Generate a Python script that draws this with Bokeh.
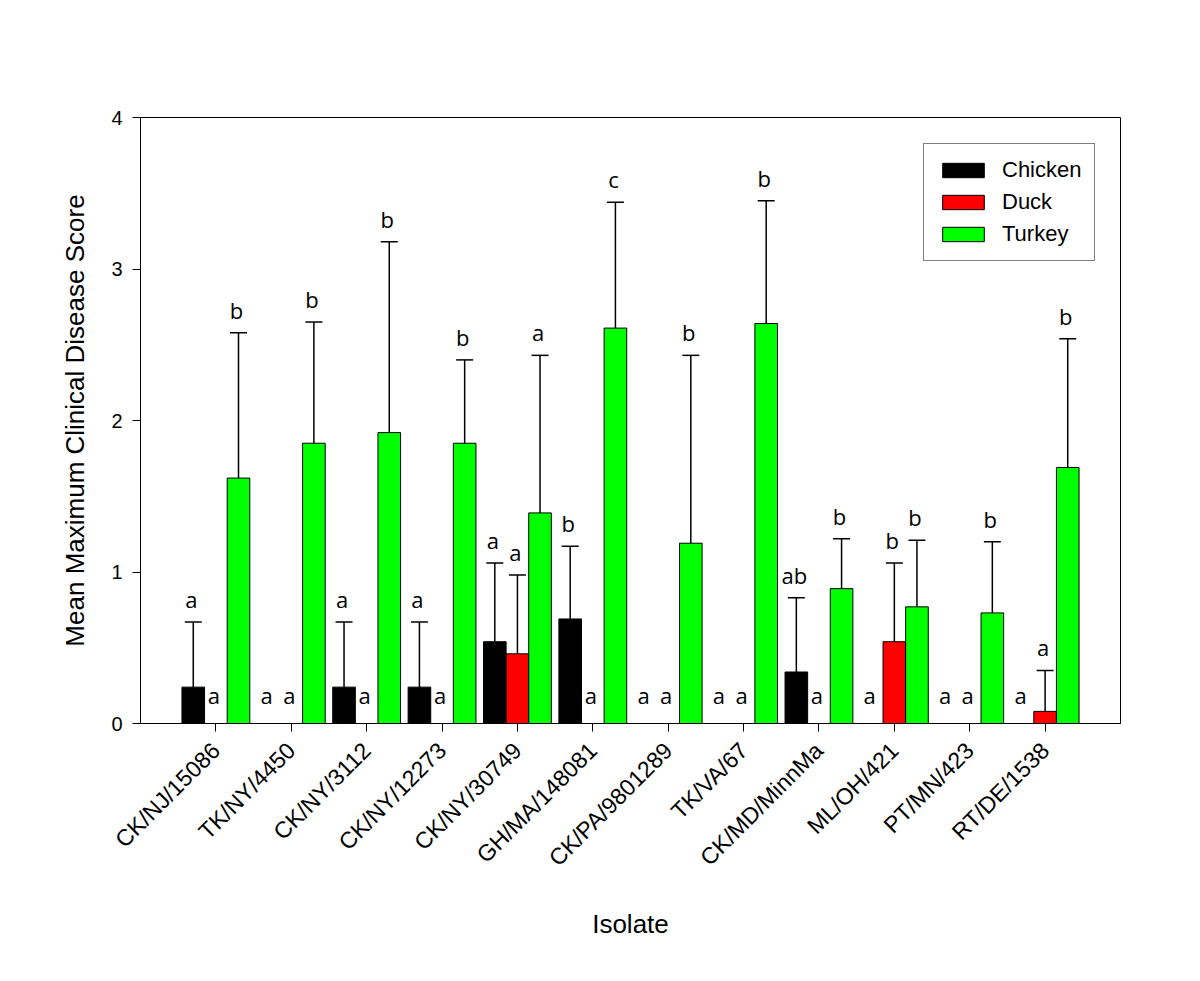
import math
from bokeh.plotting import figure
from bokeh.models import (ColumnDataSource, FactorRange, Range1d, Whisker, TeeHead,
                          LabelSet, FixedTicker)
from bokeh.transform import dodge
from bokeh.core.properties import value
from bokeh.embed import file_html
from bokeh.resources import INLINE

isolates = ["CK/NJ/15086", "TK/NY/4450", "CK/NY/3112", "CK/NY/12273", "CK/NY/30749",
            "GH/MA/148081", "CK/PA/9801289", "TK/VA/67", "CK/MD/MinnMa", "ML/OH/421",
            "PT/MN/423", "RT/DE/1538"]

chicken_mean = [0.24, 0.0, 0.24, 0.24, 0.54, 0.69, 0.0, 0.0, 0.34, 0.0, 0.0, 0.0]
chicken_sd = [0.43, 0.0, 0.43, 0.43, 0.52, 0.48, 0.0, 0.0, 0.49, 0.0, 0.0, 0.0]
chicken_letters = ["a", "a", "a", "a", "a", "b", "a", "a", "ab", "a", "a", "a"]

duck_mean = [0.0, 0.0, 0.0, 0.0, 0.46, 0.0, 0.0, 0.0, 0.0, 0.54, 0.0, 0.08]
duck_sd = [0.0, 0.0, 0.0, 0.0, 0.52, 0.0, 0.0, 0.0, 0.0, 0.52, 0.0, 0.27]
duck_letters = ["a", "a", "a", "a", "a", "a", "a", "a", "a", "b", "a", "a"]

turkey_mean = [1.62, 1.85, 1.92, 1.85, 1.39, 2.61, 1.19, 2.64, 0.89, 0.77, 0.73, 1.69]
turkey_sd = [0.96, 0.80, 1.26, 0.55, 1.04, 0.83, 1.24, 0.81, 0.33, 0.44, 0.47, 0.85]
turkey_letters = ["b", "b", "b", "b", "a", "c", "b", "b", "b", "b", "b", "b"]

series = [
    ("Chicken", "#000000", -0.3, chicken_mean, chicken_sd, chicken_letters),
    ("Duck", "#ff0000", 0.0, duck_mean, duck_sd, duck_letters),
    ("Turkey", "#00ff00", 0.3, turkey_mean, turkey_sd, turkey_letters),
]

p = figure(
    x_range=FactorRange(factors=isolates, range_padding=0.5, range_padding_units="absolute"),
    y_range=Range1d(0, 4),
    width=1184, height=965,
    min_border_left=140, min_border_right=64, min_border_top=117, min_border_bottom=242,
    output_backend="svg", toolbar_location=None,
)

for name, color, off, mean, sd, letters in series:
    src = ColumnDataSource(dict(isolate=isolates, mean=mean))
    p.vbar(x=dodge("isolate", off, range=p.x_range), top="mean", width=0.3, bottom=0,
           fill_color=color, line_color="black", line_width=1, legend_label=name, source=src)

    wi = [i for i in range(len(isolates)) if mean[i] > 0]
    wsrc = ColumnDataSource(dict(
        isolate=[isolates[i] for i in wi],
        mean=[mean[i] for i in wi],
        upper=[mean[i] + sd[i] for i in wi],
    ))
    p.add_layout(Whisker(source=wsrc, base=dodge("isolate", off, range=p.x_range),
                         lower="mean", upper="upper", dimension="height",
                         line_color="black", line_width=1.5,
                         upper_head=TeeHead(size=17, line_color="black", line_width=1.5),
                         lower_head=None))

    lsrc = ColumnDataSource(dict(
        isolate=isolates,
        y=[mean[i] + sd[i] for i in range(len(isolates))],
        yoff=[14 if mean[i] > 0 else 20 for i in range(len(isolates))],
        text=letters,
    ))
    p.add_layout(LabelSet(source=lsrc, x=dodge("isolate", off, range=p.x_range), y="y",
                          text="text", y_offset="yoff", x_offset=-2,
                          text_font=value("Open Sans"), text_font_size="22px",
                          text_align="center", text_baseline="alphabetic",
                          text_color="black"))

# axes
p.xgrid.grid_line_color = None
p.ygrid.grid_line_color = None
p.outline_line_color = "black"
p.outline_line_width = 1

p.yaxis.ticker = FixedTicker(ticks=[0, 1, 2, 3, 4])
p.yaxis.minor_tick_line_color = None
for ax in (p.xaxis[0], p.yaxis[0]):
    ax.axis_line_color = "black"
    ax.major_tick_line_color = "black"
    ax.major_tick_in = 0
    ax.major_tick_out = 8
    ax.major_label_text_font = "Liberation Sans"
    ax.major_label_text_color = "black"
    ax.axis_label_text_font = "Liberation Sans"
    ax.axis_label_text_font_size = "26px"
    ax.axis_label_text_font_style = "normal"
    ax.axis_label_text_color = "black"

p.xaxis.major_label_text_font_size = "23px"
p.yaxis.major_label_text_font_size = "20px"
p.yaxis.major_label_standoff = 10
p.xaxis.major_label_standoff = 15
p.xaxis.major_label_orientation = math.pi / 4
p.xaxis.axis_label = "Isolate"
p.xaxis.axis_label_standoff = 26
p.yaxis.axis_label = "Mean Maximum Clinical Disease Score"
p.yaxis.axis_label_standoff = 18

leg = p.legend[0]
leg.location = (783, 462)
leg.border_line_color = "black"
leg.border_line_width = 1
leg.background_fill_color = "white"
leg.background_fill_alpha = 1
leg.label_text_font = "Liberation Sans"
leg.label_text_font_size = "22px"
leg.label_text_color = "black"
leg.glyph_width = 52
leg.glyph_height = 18
leg.label_standoff = 13
leg.label_height = 18
leg.spacing = 6
leg.padding = 13
leg.margin = 0

open("out.html", "w").write(file_html(p, INLINE))
